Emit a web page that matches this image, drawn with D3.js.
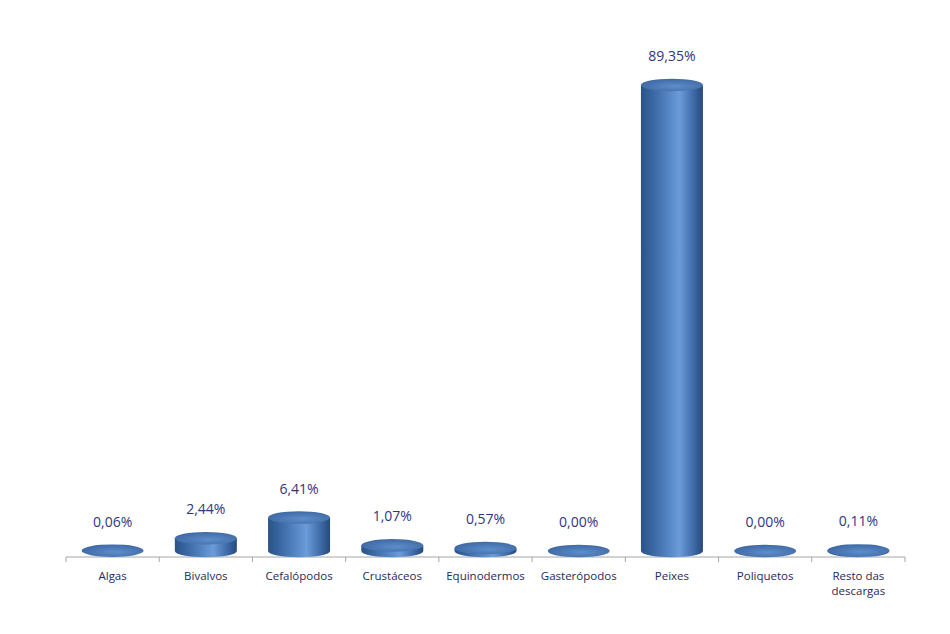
<!DOCTYPE html>
<html><head><meta charset="utf-8">
<script src="https://cdn.jsdelivr.net/npm/d3@7"></script>
<style>body{margin:0;background:#fff}svg{display:block}</style>
</head><body>
<svg id="c" width="950" height="634"></svg>
<script>
const categories = ["Algas","Bivalvos","Cefalópodos","Crustáceos","Equinodermos","Gasterópodos","Peixes","Poliquetos","Resto das descargas"];
const values = [0.06, 2.44, 6.41, 1.07, 0.57, 0.00, 89.35, 0.00, 0.11];
const valueLabels = ["0,06%","2,44%","6,41%","1,07%","0,57%","0,00%","89,35%","0,00%","0,11%"];

(function(){
const svg = d3.select("#c");
const defs = svg.append("defs");
const side = defs.append("linearGradient").attr("id","side").attr("x1","0").attr("x2","1").attr("y1","0").attr("y2","0");
side.append("stop").attr("offset","0").attr("stop-color","#2a5288");
side.append("stop").attr("offset","0.25").attr("stop-color","#3f6eab");
side.append("stop").attr("offset","0.62").attr("stop-color","#6b9bd9");
side.append("stop").attr("offset","0.85").attr("stop-color","#3d6aa6");
side.append("stop").attr("offset","1").attr("stop-color","#27497a");
const topG = defs.append("radialGradient").attr("id","topg").attr("cx","0.55").attr("cy","0.6").attr("r","0.6");
topG.append("stop").attr("offset","0").attr("stop-color","#5d8dcb");
topG.append("stop").attr("offset","1").attr("stop-color","#3e69a3");

const axisY = 557, x0 = 66, x1 = 905;
const x = d3.scaleBand().domain(categories).range([x0, x1]).paddingInner(0).paddingOuter(0);
const y = d3.scaleLinear().domain([0, 90]).range([551, 81.6]);
const barW = x.bandwidth() * 0.665, rx = barW / 2, ry = 6.3;

svg.append("line").attr("x1", x0).attr("x2", x1).attr("y1", axisY).attr("y2", axisY).attr("stroke","#a6a6a6").attr("stroke-width",1);
const bounds = categories.map(c => x(c)).concat([x1]);
svg.selectAll("line.tick").data(bounds).join("line").attr("class","tick")
  .attr("x1", d => d).attr("x2", d => d).attr("y1", axisY).attr("y2", axisY + 5)
  .attr("stroke","#a6a6a6");

const g = svg.selectAll("g.bar").data(categories).join("g").attr("class","bar");
g.each(function(c, i) {
  const cx = x(c) + x.bandwidth() / 2;
  const yb = y(0), yt = y(values[i]);
  const sel = d3.select(this);
  if (yb - yt > 0.5) {
    sel.append("path")
      .attr("d", `M${cx - rx},${yt} L${cx - rx},${yb} A${rx},${ry} 0 0 0 ${cx + rx},${yb} L${cx + rx},${yt} Z`)
      .attr("fill","url(#side)");
  }
  sel.append("ellipse").attr("cx", cx).attr("cy", yt).attr("rx", rx).attr("ry", ry).attr("fill","url(#topg)");
  sel.append("text").attr("x", cx).attr("y", yt - 24).attr("text-anchor","middle")
    .attr("font-family","'Open Sans', 'Liberation Sans', sans-serif").attr("font-size", 14)
    .attr("fill","#2f3582").text(valueLabels[i]);
});

svg.selectAll("text.cat").data(categories).join("text").attr("class","cat")
  .attr("x", c => x(c) + x.bandwidth() / 2).attr("y", 580)
  .attr("text-anchor","middle").attr("font-family","'Open Sans', 'Liberation Sans', sans-serif")
  .attr("font-size", 11.5).attr("fill","#1f2a5c")
  .each(function(c) {
    const t = d3.select(this);
    const words = c.split(" ");
    if (words.length > 2) {
      t.append("tspan").attr("x", x(c) + x.bandwidth() / 2).attr("dy", 0).text(words.slice(0, 2).join(" "));
      t.append("tspan").attr("x", x(c) + x.bandwidth() / 2).attr("dy", 15).text(words.slice(2).join(" "));
    } else t.text(c);
  });
})();
</script>
</body></html>
